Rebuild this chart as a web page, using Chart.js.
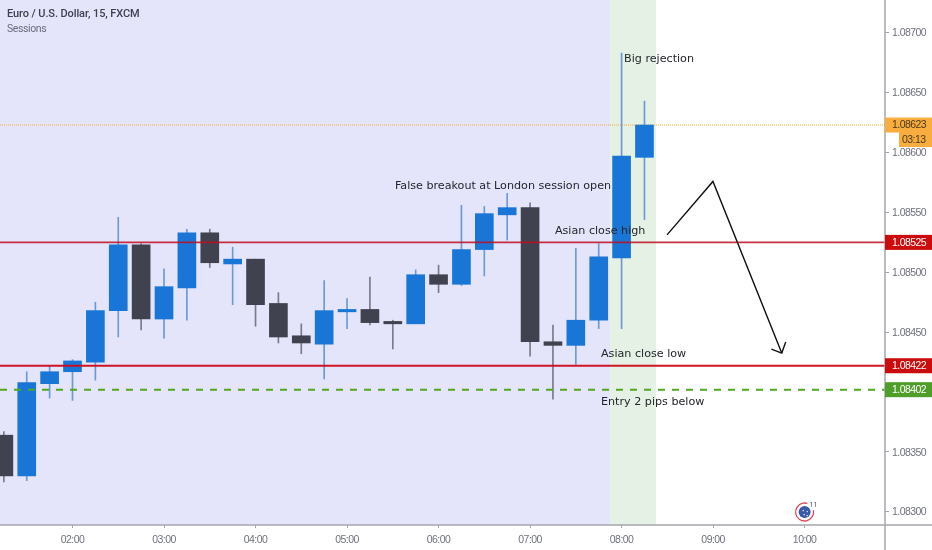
<!DOCTYPE html>
<html><head><meta charset="utf-8">
<style>html,body{margin:0;padding:0;background:#fff}canvas{display:block}</style>
<script src="https://cdn.jsdelivr.net/npm/chart.js@4"></script>
</head><body><canvas id="c" width="932" height="550"></canvas>
<script>
const times = ["01:15","01:30","01:45","02:00","02:15","02:30","02:45","03:00","03:15","03:30","03:45","04:00","04:15","04:30","04:45","05:00","05:15","05:30","05:45","06:00","06:15","06:30","06:45","07:00","07:15","07:30","07:45","08:00","08:15"];
const opens  = [1.08364,1.08330,1.08407,1.08417,1.08425,1.08468,1.08523,1.08461,1.08487,1.08533,1.08507,1.08511,1.08474,1.08447,1.08440,1.08467,1.08469,1.08459,1.08457,1.08498,1.08490,1.08519,1.08548,1.08554,1.08442,1.08439,1.08460,1.08512,1.08596];
const highs  = [1.08367,1.08417,1.08422,1.08427,1.08475,1.08546,1.08524,1.08503,1.08536,1.08536,1.08521,1.08511,1.08483,1.08457,1.08493,1.08478,1.08496,1.08460,1.08502,1.08506,1.08556,1.08555,1.08566,1.08558,1.08456,1.08520,1.08524,1.08683,1.08643];
const lows   = [1.08325,1.08326,1.08395,1.08393,1.08410,1.08446,1.08452,1.08445,1.08460,1.08504,1.08473,1.08455,1.08441,1.08432,1.08411,1.08453,1.08456,1.08436,1.08457,1.08483,1.08489,1.08497,1.08527,1.08430,1.08394,1.08423,1.08453,1.08453,1.08544];
const closes = [1.08330,1.08408,1.08417,1.08426,1.08468,1.08523,1.08461,1.08488,1.08533,1.08508,1.08511,1.08473,1.08446,1.08441,1.08468,1.08469,1.08458,1.08457,1.08498,1.08490,1.08519,1.08549,1.08554,1.08442,1.08439,1.08460,1.08513,1.08597,1.08623];
const asianHigh = 1.08525, asianLow = 1.08422, entry = 1.08402, lastPrice = 1.08623;
const countdown = "03:13";
const xMin = 72.47, xMax = 652.7, yMin = 1.08289, yMax = 1.087274;
const sessionEdges = [xMin, 472.5, 502.5];
const arrowPath = [[509.8,1.085313],[539.9,1.085759],[585,1.084326]];
const arrowHead = [[578.2,1.084359],[585,1.084326],[587.6,1.084418]];
const notes = [
  ["Big rejection",481.6,1.08678],
  ["False breakout at London session open",331.4,1.08572],
  ["Asian close high",436.3,1.08534],
  ["Asian close low",466.5,1.08432],
  ["Entry 2 pips below",466.5,1.08392]
];
const BLUE="#1976d6", DARK="#40424f", BLUEW="#6b9ad6", DARKW="#787b88", AXIS="#a4a7ad", TXT="#6f727c";
const FONT='"Liberation Sans",Arial,sans-serif';
const TIGHT='-0.55px';
const mins = t => { const [h,m]=t.split(":").map(Number); return h*60+m; };
const up = times.map((_,i)=>closes[i]>=opens[i]);
const pts = a => a.map(([x,y])=>({x,y}));
const hline = (y,color,w,dash,order)=>({type:'line',data:[{x:xMin,y},{x:xMax,y}],borderColor:color,borderWidth:w,borderDash:dash,pointRadius:0,order,tension:0});
const fitX = s=>{s.height=25;s.paddingLeft=s.paddingRight=s.paddingTop=s.paddingBottom=0};
const fitY = s=>{s.width=47;s.paddingLeft=s.paddingRight=s.paddingTop=s.paddingBottom=0};

const overlay = {
  id:'overlay',
  beforeDraw(ch){ ch.ctx.letterSpacing=TIGHT; },
  beforeDatasetsDraw(ch){
    const {ctx,chartArea:a,scales:{x}}=ch;
    ctx.save();
    ctx.fillStyle="#e4e4fb";
    ctx.fillRect(a.left,a.top,x.getPixelForValue(sessionEdges[1])-a.left,a.bottom-a.top);
    ctx.fillStyle="#e4f1e4";
    ctx.fillRect(x.getPixelForValue(sessionEdges[1]),a.top,x.getPixelForValue(sessionEdges[2])-x.getPixelForValue(sessionEdges[1]),a.bottom-a.top);
    ctx.restore();
  },
  afterDraw(ch){
    const {ctx,chartArea:a,scales:{x,y},width:W,height:H}=ch;
    ctx.save();
    ctx.strokeStyle=AXIS; ctx.lineWidth=1.5;
    ctx.beginPath(); ctx.moveTo(a.right,0); ctx.lineTo(a.right,H); ctx.moveTo(0,a.bottom); ctx.lineTo(W,a.bottom); ctx.stroke();
    ctx.textBaseline='middle'; ctx.textAlign='left';
    ctx.letterSpacing='-0.1px';
    ctx.fillStyle="#3f414e"; ctx.font='500 11px Roboto,sans-serif';
    ctx.fillText("Euro / U.S. Dollar, 15, FXCM",7,14);
    ctx.letterSpacing='-0.4px';
    ctx.fillStyle="#6a6d7a"; ctx.font='10.5px Roboto,sans-serif';
    ctx.fillText("Sessions",7,29);
    ctx.letterSpacing='0px';
    ctx.fillStyle="#24252c"; ctx.font='11.15px "DejaVu Sans",sans-serif';
    notes.forEach(([t,mx,p])=>ctx.fillText(t,x.getPixelForValue(mx),y.getPixelForValue(p)));
    ctx.letterSpacing=TIGHT;
    const tag=(p,bg,fg,label)=>{
      const py=y.getPixelForValue(p);
      ctx.fillStyle=bg; ctx.fillRect(a.right,py-7.5,W-a.right,15);
      ctx.fillStyle=fg; ctx.font='10.5px '+FONT; ctx.textAlign='left';
      ctx.fillText(label,892,py+.5);
    };
    tag(lastPrice,"#f9ad3e","#4a3a1a",lastPrice.toFixed(5));
    tag(asianHigh,"#cc0c0c","#ffffff",asianHigh.toFixed(5));
    tag(asianLow,"#cc0c0c","#ffffff",asianLow.toFixed(5));
    tag(entry,"#4f9e2a","#ffffff",entry.toFixed(5));
    const ly=y.getPixelForValue(lastPrice);
    ctx.fillStyle="#f9ad3e"; ctx.fillRect(899,ly+7,W-899,15);
    ctx.fillStyle="#4a3a1a"; ctx.fillText(countdown,902,ly+15);
    const ex=x.getPixelForValue(600), ey=a.bottom-13;
    ctx.strokeStyle="#e0455a"; ctx.lineWidth=1.3;
    ctx.beginPath(); ctx.arc(ex,ey,9,-0.2,Math.PI*1.6); ctx.stroke();
    ctx.fillStyle="#3a5aa8"; ctx.beginPath(); ctx.arc(ex,ey,6,0,Math.PI*2); ctx.fill();
    ctx.fillStyle="#fff"; [[-2,-2],[2,-1],[-1,2],[2,3]].forEach(([dx,dy])=>ctx.fillRect(ex+dx,ey+dy,1.2,1.2));
    ctx.letterSpacing='0px';
    ctx.fillStyle="#555"; ctx.font='7px Roboto,sans-serif'; ctx.fillText("11",ex+5,ey-6.5);
    ctx.restore();
  }
};

new Chart(document.getElementById('c'),{
  data:{datasets:[
    {type:'bar',data:times.map((t,i)=>({x:mins(t),y:[lows[i],highs[i]]})),backgroundColor:up.map(u=>u?BLUEW:DARKW),barThickness:1,order:4,grouped:false},
    {type:'bar',data:times.map((t,i)=>({x:mins(t),y:[opens[i],closes[i]]})),backgroundColor:up.map(u=>u?BLUE:DARK),barThickness:18,order:3,grouped:false},
    hline(lastPrice,"#f7a83a",1,[1,1],5),
    hline(asianHigh,"rgba(190,15,35,.85)",1.8,[],2),
    hline(asianLow,"rgba(205,10,25,.95)",1.8,[],2),
    hline(entry,"#4fa820",2,[7,7],2),
    {type:'line',data:pts(arrowPath),borderColor:"#111",borderWidth:1.4,pointRadius:0,tension:0,order:1},
    {type:'line',data:pts(arrowHead),borderColor:"#111",borderWidth:1.4,pointRadius:0,tension:0,order:1}
  ]},
  options:{
    responsive:false,animation:false,devicePixelRatio:1,
    layout:{padding:0},
    plugins:{legend:{display:false},tooltip:{enabled:false}},
    scales:{
      x:{type:'linear',min:xMin,max:xMax,offset:false,
        afterFit:fitX,
        grid:{offset:false,drawOnChartArea:false,tickLength:3,tickColor:AXIS},border:{display:false},
        ticks:{stepSize:60,includeBounds:false,maxRotation:0,autoSkip:false,padding:6,color:TXT,font:{family:FONT,size:10.5},
          callback:v=>String(Math.floor(v/60)).padStart(2,'0')+":00"}},
      y:{type:'linear',position:'right',min:yMin,max:yMax,
        afterFit:fitY,
        grid:{drawOnChartArea:false,tickLength:4,tickColor:AXIS},border:{display:false},
        ticks:{stepSize:0.0005,includeBounds:false,padding:3,labelOffset:0.7,color:TXT,font:{family:FONT,size:10.5},
          callback:v=>v.toFixed(5)}}
    }
  },
  plugins:[overlay]
});
</script></body></html>
